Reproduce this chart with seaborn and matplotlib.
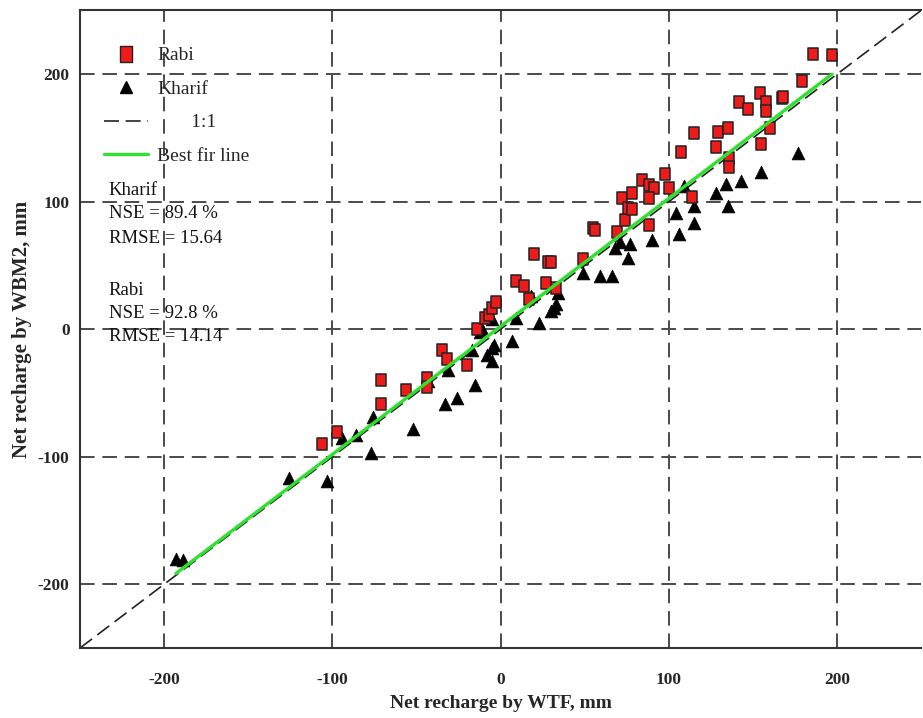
import numpy as np
import pandas as pd
import seaborn as sns
import matplotlib.pyplot as plt
from matplotlib.lines import Line2D
from matplotlib.path import Path

# Net recharge (mm): water-table-fluctuation estimate (x) vs. WBM2 model (y)
rabi_x = [-106, -97, -71, -71, -56, -44, -44, -35, -32, -20, -14, -9, -7, -5, -3,
          9, 14, 17, 20, 27, 28, 30, 33, 49, 55, 56, 69, 72, 74, 76, 78, 78,
          84, 88, 91, 88, 88, 98, 100, 107, 114, 115, 128, 129, 135, 136, 136,
          142, 147, 154, 158, 158, 167, 168, 160, 155, 179, 186, 197]
rabi_y = [-90, -81, -40, -59, -48, -38, -45, -16, -23, -28, 0, 9, 11, 17, 21,
          38, 34, 24, 59, 36, 53, 53, 32, 55, 79, 78, 76, 103, 86, 95, 94, 107,
          117, 113, 111, 103, 82, 122, 111, 139, 104, 154, 143, 155, 158, 134, 127,
          178, 173, 185, 178, 171, 181, 182, 158, 145, 195, 216, 215]

kharif_x = [-193, -189, -126, -103, -94, -86, -77, -76, -52, -43, -33, -31, -26,
            -15, -17, -12, -11, -5, -8, -5, -5, -4, 7, 9, 18, 23, 30, 32, 33, 34,
            49, 59, 66, 68, 71, 77, 76, 90, 104, 106, 109, 115, 115, 128, 134,
            135, 143, 155, 177]
kharif_y = [-180, -181, -117, -119, -85, -83, -97, -69, -78, -41, -59, -32, -54,
            -44, -16, -2, 0, 8, -20, -15, -25, -12, -9, 9, 26, 5, 14, 17, 20, 28,
            44, 42, 42, 64, 68, 67, 56, 70, 91, 75, 112, 97, 83, 107, 114,
            97, 116, 123, 138]

# Best-fit line coefficients (y = slope * x + intercept)
fit_slope = 1.004
fit_intercept = 2.2

axis_limits = [-250, 250]
axis_ticks = [-200, -100, 0, 100, 200]

stats_lines = ["Kharif", "NSE = 89.4 %", "RMSE = 15.64",
               "Rabi", "NSE = 92.8 %", "RMSE = 14.14"]
stats_y = [109, 91, 71.5, 30, 12, -6]

sns.set_style("white")
plt.rcParams['font.family'] = ['Liberation Serif', 'DejaVu Serif']
plt.rcParams['axes.unicode_minus'] = False

fig = plt.figure(figsize=(9.23, 7.18), dpi=100)
ax = fig.add_axes([0.0867, 0.0975, 0.9113, 0.888])

# Tall rectangle marker for the Rabi points
rect_marker = Path([(-0.4, -0.5), (0.4, -0.5), (0.4, 0.5), (-0.4, 0.5), (-0.4, -0.5)],
                   [Path.MOVETO, Path.LINETO, Path.LINETO, Path.LINETO, Path.CLOSEPOLY])

red = '#ee1b1b'
green = '#2fe02f'

# 1:1 reference line
sns.lineplot(x=axis_limits, y=axis_limits, color='#222222', lw=1.2,
             linestyle=(0, (9, 4)), ax=ax, zorder=2)

sns.scatterplot(x=kharif_x, y=kharif_y, marker='^', s=85, color='black',
                edgecolor='black', linewidth=0.5, ax=ax, zorder=3)
sns.scatterplot(x=rabi_x, y=rabi_y, marker=rect_marker, s=85, color=red,
                edgecolor='#222222', linewidth=1.1, ax=ax, zorder=4)

# Best-fit line over the data range
all_x = np.array(rabi_x + kharif_x)
fit_x = np.array([all_x.min(), all_x.max()])
sns.lineplot(x=fit_x, y=fit_slope * fit_x + fit_intercept, color=green, lw=2.4,
             ax=ax, zorder=5)

ax.set_xlim(axis_limits)
ax.set_ylim(axis_limits)
ax.set_xticks(axis_ticks)
ax.set_yticks(axis_ticks)
ax.grid(True, color='#4a4a4a', linestyle=(0, (7.5, 4)), lw=1.4)
ax.set_axisbelow(True)

for side in ['left', 'bottom', 'top']:
    ax.spines[side].set_color('#333333')
    ax.spines[side].set_linewidth(1.5)
ax.spines['right'].set_visible(False)

ax.tick_params(axis='y', direction='out', length=6, width=1.2, color='#444444',
               labelsize=12.5, pad=1.5)
ax.tick_params(axis='x', length=0, labelsize=12.5, pad=17)
for lab in ax.get_xticklabels() + ax.get_yticklabels():
    lab.set_fontweight('bold')

ax.set_xlabel("Net recharge by WTF, mm", fontsize=14, fontweight='bold', labelpad=5)
ax.set_ylabel("Net recharge by WBM2, mm", fontsize=15, fontweight='bold', labelpad=4)

handles = [
    Line2D([], [], marker=rect_marker, markersize=11, markerfacecolor=red,
           markeredgecolor='#222222', linestyle='none'),
    Line2D([], [], marker='^', markersize=9, markerfacecolor='black',
           markeredgecolor='black', linestyle='none'),
    Line2D([], [], color='#222222', lw=1.2, linestyle=(0, (9, 4))),
    Line2D([], [], color=green, lw=2.4),
]
labels = ["Rabi", "Kharif", "       1:1", "Best fir line"]
ax.legend(handles, labels, loc='upper left', bbox_to_anchor=(0.028, 0.943),
          frameon=False, fontsize=14, handlelength=2.3, handletextpad=0.45,
          labelspacing=0.82, borderaxespad=0, borderpad=0)

for txt, yv in zip(stats_lines, stats_y):
    ax.text(-233, yv, txt, fontsize=13.5, va='center', ha='left', color='#111111')

fig.savefig("out.png", dpi=100)
